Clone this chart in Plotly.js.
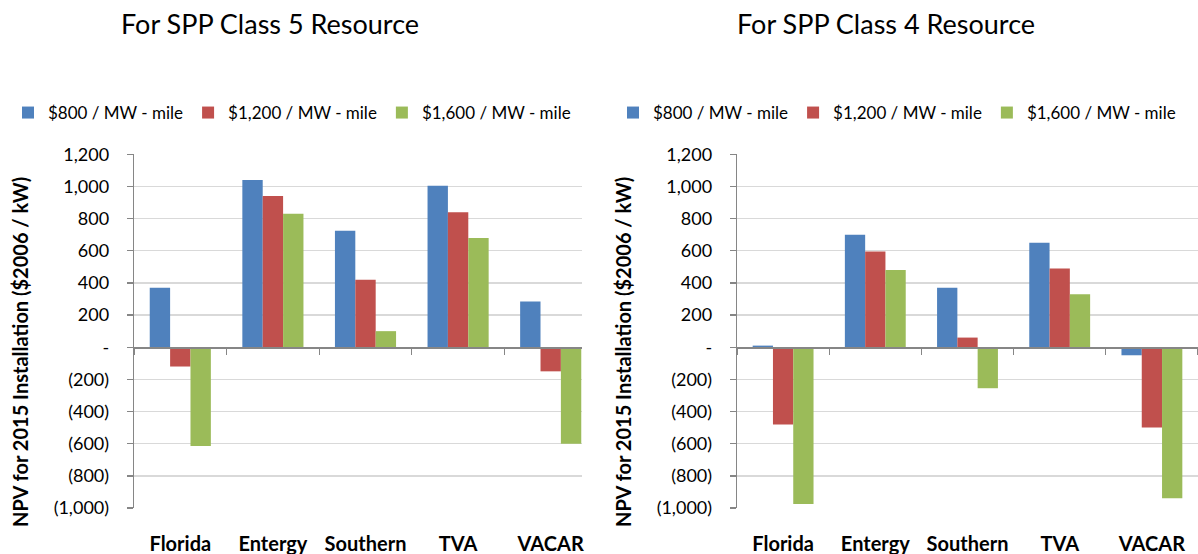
<!DOCTYPE html>
<html>
<head>
<meta charset="utf-8">
<script src="https://cdn.plot.ly/plotly-3.0.1.min.js"></script>
<style>html,body{margin:0;padding:0;background:#fff}#chart{width:1198px;height:554px}</style>
</head>
<body>
<div id="chart"></div>
<script>
const categories = ['Florida', 'Entergy', 'Southern', 'TVA', 'VACAR'];
const seriesNames = ['$800 / MW - mile', '$1,200 / MW - mile', '$1,600 / MW - mile'];
const seriesColors = ['#4F81BD', '#C0504D', '#9BBB59'];

// For SPP Class 5 Resource
const class5_800 = [370, 1040, 725, 1005, 285];
const class5_1200 = [-120, 940, 420, 840, -150];
const class5_1600 = [-615, 830, 100, 680, -600];

// For SPP Class 4 Resource
const class4_800 = [10, 700, 370, 650, -50];
const class4_1200 = [-480, 595, 60, 490, -500];
const class4_1600 = [-975, 480, -255, 330, -940];

const chartTitles = ['For SPP Class 5 Resource', 'For SPP Class 4 Resource'];
const yTitle = 'NPV for 2015 Installation ($2006 / kW)';
const yTickVals = [-1000, -800, -600, -400, -200, 0, 200, 400, 600, 800, 1000, 1200];
const yTickText = ['(1,000)', '(800)', '(600)', '(400)', '(200)', '-', '200', '400', '600', '800', '1,000', '1,200'];

const W = 1198, H = 554;
const FONT = 'Lato, "Open Sans", sans-serif';
const yMin = -1000, yMax = 1200;
const yDom = [(H - 508) / H, (H - 154.3) / H];
const zeroPos = yDom[0] + (0 - yMin) / (yMax - yMin) * (yDom[1] - yDom[0]);
const xDom1 = [134 / W, 597 / W];
const xDom2 = [737 / W, 1];

const sets = [
  {vals: [class5_800, class5_1200, class5_1600], xa: 'x', ya: 'y', lg: 'legend'},
  {vals: [class4_800, class4_1200, class4_1600], xa: 'x2', ya: 'y2', lg: 'legend2'}
];
const traces = [];
sets.forEach(s => {
  s.vals.forEach((v, i) => {
    traces.push({
      type: 'bar', x: categories, y: v, name: seriesNames[i],
      marker: {color: seriesColors[i], line: {width: 0}},
      xaxis: s.xa, yaxis: s.ya, legend: s.lg,
      hoverinfo: 'skip'
    });
  });
});

function xAxis(dom) {
  return {
    domain: dom, anchor: 'free', position: zeroPos,
    type: 'category', showgrid: false, zeroline: false,
    showline: true, linecolor: '#868686', linewidth: 1.3,
    ticks: 'outside', ticklen: 6, tickcolor: '#868686', tickwidth: 1.3,
    tickson: 'boundaries', ticklabelstandoff: 178,
    tickfont: {family: FONT, size: 20, color: '#000', weight: 'bold'},
    fixedrange: true
  };
}
function yAxis(anchor) {
  return {
    domain: yDom, anchor: anchor, range: [yMin, yMax],
    tickvals: yTickVals, ticktext: yTickText,
    showgrid: true, gridcolor: '#D9D9D9', gridwidth: 1.3, zeroline: false,
    showline: true, linecolor: '#868686', linewidth: 1.3,
    ticks: 'outside', ticklen: 6, tickcolor: '#868686', tickwidth: 1.3,
    ticklabelstandoff: 14,
    tickfont: {family: FONT, size: 18, color: '#000'},
    fixedrange: true
  };
}

const legendBase = {
  orientation: 'h', xanchor: 'left', yanchor: 'middle', y: (H - 113) / H,
  font: {family: FONT, size: 17, color: '#000'}, bgcolor: 'rgba(0,0,0,0)',
  itemclick: false, itemdoubleclick: false, traceorder: 'normal'
};

const layout = {
  width: W, height: H, margin: {l: 0, r: 0, t: 0, b: 0},
  paper_bgcolor: '#fff', plot_bgcolor: '#fff',
  barmode: 'group', bargap: 0.34, bargroupgap: 0,
  font: {family: FONT, color: '#000'},
  xaxis: xAxis(xDom1),
  yaxis: yAxis('x'),
  xaxis2: xAxis(xDom2),
  yaxis2: yAxis('x2'),
  legend: Object.assign({}, legendBase, {x: 8 / W}),
  legend2: Object.assign({}, legendBase, {x: 613 / W}),
  shapes: [{
    type: 'rect', xref: 'paper', yref: 'paper', layer: 'above',
    x0: 582 / W, x1: 605 / W, y0: yDom[0] - 0.03, y1: yDom[1] + 0.01,
    fillcolor: '#fff', line: {width: 0}
  }],
  annotations: [
    {text: chartTitles[0], xref: 'paper', yref: 'paper', x: 270 / W, y: (H - 24) / H,
     xanchor: 'center', yanchor: 'middle', showarrow: false,
     font: {family: FONT, size: 27, color: '#000'}},
    {text: chartTitles[1], xref: 'paper', yref: 'paper', x: 886 / W, y: (H - 24) / H,
     xanchor: 'center', yanchor: 'middle', showarrow: false,
     font: {family: FONT, size: 27, color: '#000'}},
    {text: yTitle, xref: 'paper', yref: 'paper', x: 20 / W, y: (H - 352) / H,
     xanchor: 'center', yanchor: 'middle', textangle: -90, showarrow: false,
     font: {family: FONT, size: 20, color: '#000', weight: 'bold'}},
    {text: yTitle, xref: 'paper', yref: 'paper', x: 623 / W, y: (H - 352) / H,
     xanchor: 'center', yanchor: 'middle', textangle: -90, showarrow: false,
     font: {family: FONT, size: 20, color: '#000', weight: 'bold'}}
  ]
};

Plotly.newPlot('chart', traces, layout, {displayModeBar: false, staticPlot: true});
</script>
</body>
</html>
